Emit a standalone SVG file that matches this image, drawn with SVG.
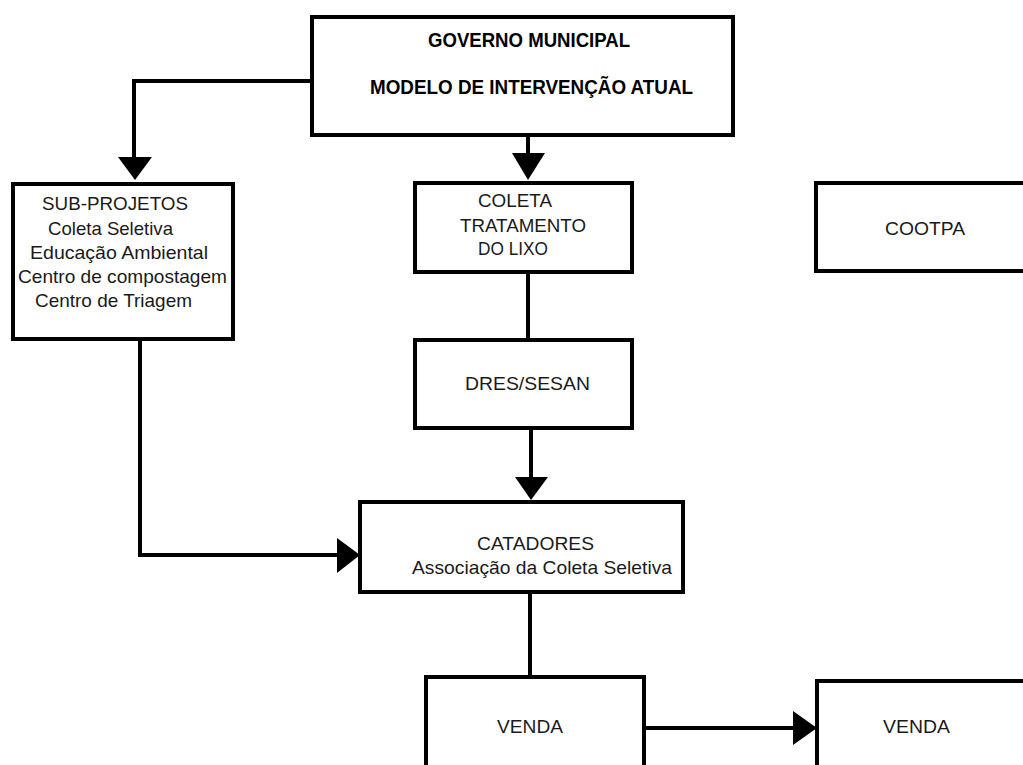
<svg xmlns="http://www.w3.org/2000/svg" width="1023" height="765" viewBox="0 0 1023 765">
<style>
.box{fill:#fff;stroke:#000;stroke-width:4}
.ln{fill:none;stroke:#000;stroke-width:4}
.ah{fill:#000;stroke:none}
.t{font-family:"Liberation Sans",Arial,sans-serif;font-size:18.5px;fill:#1a1a1a}
.b{font-family:"Liberation Sans",Arial,sans-serif;font-size:19.5px;font-weight:bold;fill:#000}
</style>
<rect width="1023" height="765" fill="#fff"/>
<g id="connectors">
<polyline class="ln" points="312,81 134,81 134,158"/>
<polygon class="ah" points="118,157 152,157 135,180"/>
<line class="ln" x1="528" y1="135" x2="528" y2="155"/>
<polygon class="ah" points="512,153 545,153 528,180"/>
<line class="ln" x1="528" y1="272" x2="528" y2="340"/>
<line class="ln" x1="531" y1="428" x2="531" y2="478"/>
<polygon class="ah" points="515,477 548,477 531,500"/>
<polyline class="ln" points="140,339 140,555 338,555"/>
<polygon class="ah" points="337,538 337,573 360,555"/>
<line class="ln" x1="530" y1="592" x2="530" y2="677"/>
<line class="ln" x1="644" y1="728" x2="795" y2="728"/>
<polygon class="ah" points="793,711 793,745 817,728"/>
</g>
<g id="governo">
<rect class="box" x="312" y="17" width="421" height="118"/>
<text class="b" x="428" y="47" textLength="202" lengthAdjust="spacingAndGlyphs">GOVERNO MUNICIPAL</text>
<text class="b" x="370" y="94" textLength="323" lengthAdjust="spacingAndGlyphs">MODELO DE INTERVENÇÃO ATUAL</text>
</g>
<g id="subprojetos">
<rect class="box" x="13" y="184" width="220" height="155"/>
<text class="t" x="42" y="210" textLength="146" lengthAdjust="spacingAndGlyphs">SUB-PROJETOS</text>
<text class="t" x="48" y="235" textLength="125" lengthAdjust="spacingAndGlyphs">Coleta Seletiva</text>
<text class="t" x="30" y="259" textLength="178" lengthAdjust="spacingAndGlyphs">Educação Ambiental</text>
<text class="t" x="18" y="283" textLength="209" lengthAdjust="spacingAndGlyphs">Centro de compostagem</text>
<text class="t" x="35" y="307" textLength="157" lengthAdjust="spacingAndGlyphs">Centro de Triagem</text>
</g>
<g id="coleta">
<rect class="box" x="415" y="183" width="217" height="89"/>
<text class="t" x="478" y="207" textLength="74" lengthAdjust="spacingAndGlyphs">COLETA</text>
<text class="t" x="460" y="232" textLength="126" lengthAdjust="spacingAndGlyphs">TRATAMENTO</text>
<text class="t" x="478" y="255" textLength="70" lengthAdjust="spacingAndGlyphs">DO LIXO</text>
</g>
<g id="cootpa">
<rect class="box" x="816" y="183" width="220" height="88"/>
<text class="t" x="885" y="235" textLength="80" lengthAdjust="spacingAndGlyphs">COOTPA</text>
</g>
<g id="dres">
<rect class="box" x="415" y="340" width="217" height="88"/>
<text class="t" x="465" y="390" textLength="125" lengthAdjust="spacingAndGlyphs">DRES/SESAN</text>
</g>
<g id="catadores">
<rect class="box" x="360" y="502" width="323" height="90"/>
<text class="t" x="477" y="550" textLength="117" lengthAdjust="spacingAndGlyphs">CATADORES</text>
<text class="t" x="412" y="574" textLength="260" lengthAdjust="spacingAndGlyphs">Associação da Coleta Seletiva</text>
</g>
<g id="venda1">
<rect class="box" x="426" y="677" width="218" height="100"/>
<text class="t" x="497" y="733" textLength="66" lengthAdjust="spacingAndGlyphs">VENDA</text>
</g>
<g id="venda2">
<rect class="box" x="817" y="681" width="220" height="100"/>
<text class="t" x="883" y="733" textLength="67" lengthAdjust="spacingAndGlyphs">VENDA</text>
</g>
</svg>
